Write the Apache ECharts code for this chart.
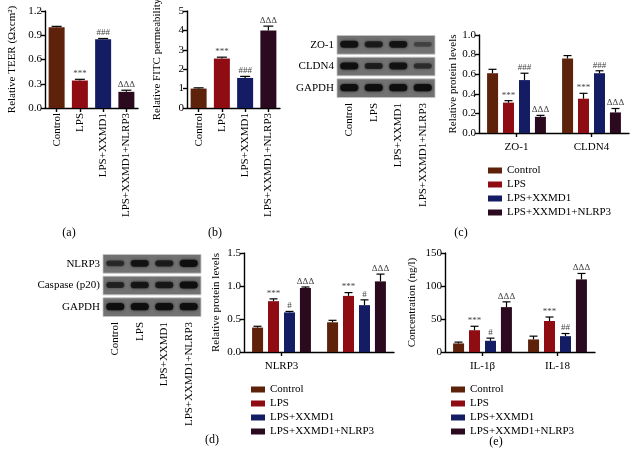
<!DOCTYPE html>
<html><head><meta charset="utf-8">
<script src="https://cdn.jsdelivr.net/npm/echarts@6/dist/echarts.min.js"></script>
<style>html,body{margin:0;padding:0;background:#fff}#c{width:630px;height:457px}</style>
</head><body><div id="c"></div>
<script>
// ---------- data ----------
const groups = ['Control', 'LPS', 'LPS+XXMD1', 'LPS+XXMD1+NLRP3'];
const colors = ['#5e2109', '#8f0d12', '#141c63', '#2b0a1f'];
// (a) TEER
const teerMean = [1.00, 0.34, 0.85, 0.20];
const teerErr = [0.01, 0.015, 0.01, 0.02];
const teerSig = ['', '***', '###', 'ΔΔΔ'];
const teerTicks = { min: 0, max: 1.2, interval: 0.3 };
// (b) FITC
const fitcMean = [1.0, 2.55, 1.55, 4.0];
const fitcErr = [0.04, 0.07, 0.08, 0.22];
const fitcSig = ['', '***', '###', 'ΔΔΔ'];
const fitcTicks = { min: 0, max: 5, interval: 1 };
// (c) tight junction proteins
const cCats = ['ZO-1', 'CLDN4'];
const cMean = [[0.61, 0.76], [0.31, 0.35], [0.54, 0.61], [0.165, 0.21]];
const cErr = [[0.04, 0.03], [0.02, 0.055], [0.07, 0.025], [0.015, 0.04]];
const cSig = [['', ''], ['***', '***'], ['###', '###'], ['ΔΔΔ', 'ΔΔΔ']];
const cTicks = { min: 0, max: 1.0, interval: 0.2 };
const cBlotRows = ['ZO-1', 'CLDN4', 'GAPDH'];
const cBlot = [[0.9, 0.7, 0.85, 0.2], [0.95, 0.65, 0.85, 0.45], [0.95, 0.95, 0.95, 0.95]];
// (d) inflammasome proteins
const dCats = ['NLRP3', 'Caspase-1 (p20)'];
const dMean = [[0.37, 0.45], [0.77, 0.85], [0.60, 0.71], [0.97, 1.07]];
const dErr = [[0.02, 0.03], [0.035, 0.05], [0.015, 0.08], [0.015, 0.11]];
const dSig = [['', ''], ['***', '***'], ['#', '#'], ['ΔΔΔ', 'ΔΔΔ']];
const dTicks = { min: 0, max: 1.5, interval: 0.5 };
const dBlotRows = ['NLRP3', 'Caspase (p20)', 'GAPDH'];
const dBlot = [[0.5, 0.85, 0.7, 0.95], [0.6, 0.8, 0.75, 0.95], [0.95, 0.95, 0.95, 0.95]];
// (e) cytokines
const eCats = ['IL-1β', 'IL-18'];
const eMean = [[13, 19], [33, 47], [17, 24], [68, 110]];
const eErr = [[2, 5], [6, 6], [4, 4], [8, 9]];
const eSig = [['', ''], ['***', '***'], ['#', '##'], ['ΔΔΔ', 'ΔΔΔ']];
const eTicks = { min: 0, max: 150, interval: 50 };

// ---------- helpers ----------
const FF = "'Liberation Serif', 'Times New Roman', serif";
const AX = { color: '#000', width: 1.4 };

function grid(l, t, w, h) {
  return { left: l, top: t, width: w, height: h, outerBoundsMode: 'none', containLabel: false };
}
function barX(gi, cats, margin) {
  return {
    type: 'category', gridIndex: gi, data: cats,
    axisLine: { lineStyle: AX },
    axisTick: { show: true, alignWithLabel: true, length: 4, lineStyle: AX },
    axisLabel: { color: '#000', fontSize: 11, fontFamily: FF, margin: margin, rotate: cats.length === 4 ? 90 : 0 },
    splitLine: { show: false }
  };
}
function barY(gi, ticks, name, gap, dec) {
  return {
    type: 'value', gridIndex: gi, min: ticks.min, max: ticks.max, interval: ticks.interval,
    name: name, nameLocation: 'middle', nameGap: gap,
    nameTextStyle: { color: '#000', fontSize: 11, fontFamily: FF },
    axisLine: { show: true, lineStyle: AX },
    axisTick: { show: true, length: 4, lineStyle: AX },
    axisLabel: { color: '#000', fontSize: 11, fontFamily: FF, margin: 3,
      formatter: v => v.toFixed(dec) },
    splitLine: { show: false }
  };
}
function blotX(gi) {
  return {
    type: 'category', gridIndex: gi, data: groups,
    axisLine: { show: false }, axisTick: { show: false }, splitLine: { show: false },
    axisLabel: { color: '#000', fontSize: 11, fontFamily: FF, rotate: 90, margin: 4 }
  };
}
function blotY(gi, rows) {
  return {
    type: 'category', gridIndex: gi, data: rows, inverse: true,
    axisLine: { show: false }, axisTick: { show: false }, splitLine: { show: false },
    axisLabel: { color: '#000', fontSize: 11, fontFamily: FF, margin: 3 }
  };
}
// error bars + significance marks
function errSeries(ai, means, errs, sigs, nk, step, cap) {
  const items = [], labels = [];
  for (let k = 0; k < nk; k++) {
    means[k].forEach((m, c) => { items.push([c, k, m, errs[k][c]]); labels.push(sigs[k][c]); });
  }
  return {
    type: 'custom', xAxisIndex: ai, yAxisIndex: ai, z: 5, silent: true,
    data: items, encode: { x: 0, y: 2 },
    renderItem(params, api) {
      const c = api.value(0), k = api.value(1), m = api.value(2), e = api.value(3);
      const p0 = api.coord([c, m]), p1 = api.coord([c, m + e]);
      const x = p0[0] + (k - (nk - 1) / 2) * step;
      const ls = { stroke: '#000', lineWidth: 1.2 };
      return { type: 'group', children: [
        { type: 'line', shape: { x1: x, y1: p0[1], x2: x, y2: p1[1] }, style: ls },
        { type: 'line', shape: { x1: x - cap, y1: p1[1], x2: x + cap, y2: p1[1] }, style: ls },
        { type: 'text', style: { text: labels[params.dataIndex], x: x, y: p1[1] - 1,
          align: 'center', verticalAlign: 'bottom', fontSize: 9, fontFamily: FF, fill: '#444' } }
      ] };
    }
  };
}
function singleBars(ai, means, name) {
  return {
    type: 'bar', name: name, xAxisIndex: ai, yAxisIndex: ai, barWidth: 16,
    data: means.map((v, i) => ({ value: v, itemStyle: { color: colors[i] } }))
  };
}
function groupBars(ai, means) {
  return means.map((arr, k) => ({
    type: 'bar', name: groups[k], xAxisIndex: ai, yAxisIndex: ai,
    barWidth: 11, barGap: '45%', itemStyle: { color: colors[k] }, data: arr
  }));
}
function blotSeries(ai, mat) {
  const items = [];
  mat.forEach((row, r) => row.forEach((v, l) => items.push([l, r, v])));
  return {
    type: 'custom', xAxisIndex: ai, yAxisIndex: ai, silent: true,
    data: items, encode: { x: 0, y: 1 },
    renderItem(params, api) {
      const l = api.value(0), r = api.value(1), v = api.value(2);
      const c = api.coord([l, r]), s = api.size([1, 1]);
      const w = s[0], h = s[1];
      const ch = [];
      if (l === 0) {
        ch.push({ type: 'rect', shape: { x: c[0] - w / 2, y: c[1] - h / 2 + 1.5, width: w * 4, height: h - 3 },
          style: { fill: '#727272', stroke: '#c4c4c4', lineWidth: 0.8 } });
      }
      const bh = h * (0.18 + 0.16 * v);
      ch.push({ type: 'rect', shape: { x: c[0] - w * 0.37, y: c[1] - bh / 2 - 0.5, width: w * 0.74, height: bh, r: bh / 2 },
        style: { fill: 'rgba(14,14,14,' + (0.25 + 0.75 * v) + ')', shadowBlur: 3, shadowColor: 'rgba(20,20,20,' + (0.3 + 0.6 * v) + ')' } });
      return { type: 'group', children: ch };
    }
  };
}
function legend(l, t) {
  return { data: groups, orient: 'vertical', left: l, top: t, icon: 'rect', itemWidth: 14, itemHeight: 6,
    itemGap: 3, selectedMode: false, textStyle: { color: '#000', fontSize: 11, fontFamily: FF } };
}
function panelLabel(txt, x, y) {
  return { type: 'text', x: x, y: y, style: { text: txt, align: 'center', verticalAlign: 'middle',
    fontSize: 12, fontFamily: FF, fill: '#000' } };
}

// ---------- option ----------
const option = {
  animation: false,
  backgroundColor: '#fff',
  grid: [
    grid(45, 11, 93, 97),    // 0 (a)
    grid(187, 11, 93, 97),   // 1 (b)
    grid(337, 34, 98, 65),   // 2 blot c
    grid(479, 35, 150, 98),  // 3 (c)
    grid(103, 253, 98, 65),  // 4 blot d
    grid(244, 253, 150, 99), // 5 (d)
    grid(445, 253, 150, 99)  // 6 (e)
  ],
  xAxis: [
    barX(0, groups, 5), barX(1, groups, 5), blotX(2), barX(3, cCats, 9),
    blotX(4), barX(5, dCats, 9), barX(6, eCats, 9)
  ],
  yAxis: [
    barY(0, teerTicks, 'Relative TEER (Ωxcm²)', 27, 1),
    barY(1, fitcTicks, 'Relative FITC permeability', 24, 0),
    blotY(2, cBlotRows),
    barY(3, cTicks, 'Relative protein levels', 19, 1),
    blotY(4, dBlotRows),
    barY(5, dTicks, 'Relative protein levels', 22, 1),
    barY(6, eTicks, 'Concentration (ng/l)', 27, 0)
  ],
  legend: [legend(483, 160), legend(246, 379), legend(446, 379)],
  series: [
    singleBars(0, teerMean, 'TEER'),
    errSeries(0, [teerMean], [teerErr], [teerSig], 1, 0, 5),
    singleBars(1, fitcMean, 'FITC'),
    errSeries(1, [fitcMean], [fitcErr], [fitcSig], 1, 0, 5),
    blotSeries(2, cBlot),
    ...groupBars(3, cMean),
    errSeries(3, cMean, cErr, cSig, 4, 16, 4),
    blotSeries(4, dBlot),
    ...groupBars(5, dMean),
    errSeries(5, dMean, dErr, dSig, 4, 16, 4),
    ...groupBars(6, eMean),
    errSeries(6, eMean, eErr, eSig, 4, 16, 4)
  ],
  graphic: [
    panelLabel('(a)', 69, 233), panelLabel('(b)', 215, 233), panelLabel('(c)', 461, 233),
    panelLabel('(d)', 212, 440), panelLabel('(e)', 496, 442)
  ]
};
const chart = echarts.init(document.getElementById('c'), null, { renderer: 'canvas' });
chart.setOption(option);
</script>
</body></html>
